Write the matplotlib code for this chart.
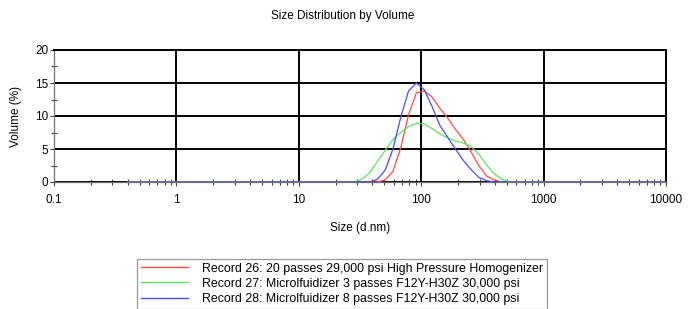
import matplotlib
matplotlib.use("Agg")
import matplotlib.pyplot as plt
from matplotlib.ticker import FixedLocator, NullFormatter, LogLocator

plt.rcParams['font.family'] = ['Liberation Sans', 'DejaVu Sans']

title = "Size Distribution by Volume"
x_label = "Size (d.nm)"
y_label = "Volume (%)"

sizes = [0.4, 28.21, 32.67, 37.84, 43.82, 50.75, 58.77, 68.06, 78.82, 91.28,
         105.7, 122.4, 141.8, 164.2, 190.1, 220.2, 255.0, 295.3, 342.0,
         396.1, 458.7, 531.2, 10000]

rec26 = [0, 0, 0, 0, 0, 0.3, 1.6, 5.2, 10.2, 13.5,
         13.8, 12.9, 11.2, 9.7, 8.0, 6.5, 4.6, 2.5, 0.9,
         0.3, 0, 0, 0]
rec27 = [0, 0, 0.4, 1.4, 3.1, 4.8, 6.4, 7.5, 8.4, 8.9,
         8.8, 8.1, 7.3, 6.7, 6.2, 5.9, 5.4, 4.2, 2.6,
         1.2, 0.4, 0, 0]
rec28 = [0, 0, 0, 0, 0.4, 1.8, 5.0, 9.8, 13.8, 15.0,
         14.0, 11.5, 8.6, 6.8, 5.0, 3.3, 1.9, 0.7, 0.2,
         0, 0, 0, 0]

labels = ["Record 26: 20 passes 29,000 psi High Pressure Homogenizer",
          "Record 27: Microlfuidizer 3 passes F12Y-H30Z 30,000 psi",
          "Record 28: Microlfuidizer 8 passes F12Y-H30Z 30,000 psi"]
colors = ["#ff4a4a", "#5ce65c", "#4a4aff"]

x_ticks = [0.1, 1, 10, 100, 1000, 10000]
x_ticklabels = ["0.1", "1", "10", "100", "1000", "10000"]
y_ticks = [0, 5, 10, 15, 20]

W, H = 698, 309
fig = plt.figure(figsize=(W / 100, H / 100), dpi=100)
ax = fig.add_axes([54 / W, 1 - 182 / H, 612 / W, 132 / H])

for vals, c, lab in zip([rec26, rec27, rec28], colors, labels):
    ax.plot(sizes, vals, color=c, lw=0.9, label=lab, zorder=3)

ax.set_xscale('log')
ax.set_xlim(0.1, 10000)
ax.set_ylim(0, 20)
ax.set_xticks(x_ticks)
ax.set_xticklabels(x_ticklabels)
ax.xaxis.set_minor_locator(LogLocator(base=10, subs=[2, 3, 4, 5, 6, 7, 8, 9], numticks=20))
ax.xaxis.set_minor_formatter(NullFormatter())
ax.set_yticks(y_ticks)
ax.yaxis.set_minor_locator(FixedLocator([2.5, 7.5, 12.5, 17.5]))

ax.grid(True, which='major', color='black', lw=1.4, zorder=1)
ax.set_axisbelow(True)

for s in ['top', 'right']:
    ax.spines[s].set_color('black')
    ax.spines[s].set_linewidth(1.4)
for s in ['left', 'bottom']:
    ax.spines[s].set_color('#707070')
    ax.spines[s].set_linewidth(0.9)

ax.tick_params(axis='both', which='major', labelsize=8.5, color='#404040',
               length=3, width=0.8, direction='out')
ax.tick_params(axis='y', which='major', pad=1)
ax.tick_params(axis='x', which='major', pad=5.5)
ax.tick_params(axis='both', which='minor', color='#404040', length=4,
               width=0.8, direction='inout')

ax.set_xlabel(x_label, fontsize=8.5)
ax.set_ylabel(y_label, fontsize=8.5)
ax.xaxis.set_label_coords(0.5, (182 - 222) / 132)
ax.yaxis.set_label_coords((22 - 54) / 612, 0.5)

fig.text(343 / W, 1 - 16 / H, title, ha='center', va='center', fontsize=8.5)

leg = ax.legend(loc='upper left', bbox_to_anchor=(137 / W, 1 - 259 / H),
                bbox_transform=fig.transFigure, fontsize=8.9, frameon=True,
                fancybox=False, shadow=False, handlelength=3.8,
                handletextpad=1.15, borderpad=0.3, labelspacing=0.25,
                borderaxespad=0)
leg.get_frame().set_edgecolor('#808080')
leg.get_frame().set_linewidth(0.9)
for line in leg.get_lines():
    line.set_linewidth(1.0)

fig.savefig("out.png", dpi=100)
